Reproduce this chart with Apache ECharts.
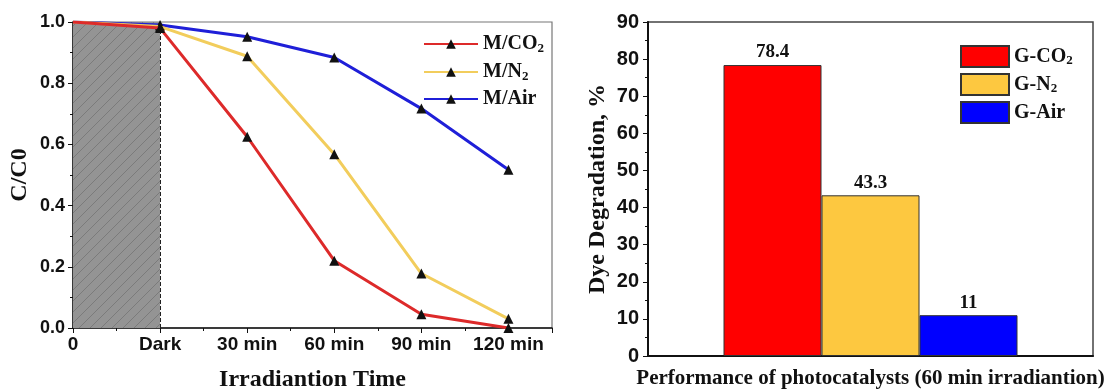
<!DOCTYPE html>
<html>
<head>
<meta charset="utf-8">
<script src="https://cdn.jsdelivr.net/npm/echarts@6/dist/echarts.min.js"></script>
<style>html,body{margin:0;padding:0;background:#fff;}#c{width:1111px;height:389px;}</style>
</head>
<body>
<div id="c"></div>
<script>
// ---- data ----
var timeLabels = ['0', 'Dark', '30 min', '60 min', '90 min', '120 min'];
var lineNames = ['M/CO2', 'M/N2', 'M/Air'];
var co2Vals = [1.0, 0.98, 0.625, 0.22, 0.045, 0.0];
var n2Vals = [1.0, 0.985, 0.888, 0.568, 0.178, 0.03];
var airVals = [1.0, 0.99, 0.952, 0.884, 0.717, 0.517];
var barNames = ['G-CO2', 'G-N2', 'G-Air'];
var barVals = [78.4, 43.3, 11];

var SERIF = 'Liberation Serif';
var SANS = 'Liberation Sans';

// hatch pattern
var P = 11;
var pc = document.createElement('canvas');
pc.width = P; pc.height = P;
var g = pc.getContext('2d');
g.fillStyle = '#949494'; g.fillRect(0, 0, P, P);
g.strokeStyle = '#7b7b7b'; g.lineWidth = 1;
g.beginPath(); g.moveTo(-1, P + 1); g.lineTo(P + 1, -1); g.stroke();
g.beginPath(); g.moveTo(-1, 1); g.lineTo(1, -1); g.stroke();
g.beginPath(); g.moveTo(P - 1, P + 1); g.lineTo(P + 1, P - 1); g.stroke();

function subFmt(name) {
  var m = name.match(/^(.*?)(\d)$/);
  if (m) return '{b|' + m[1] + '}{s|' + m[2] + '}';
  return '{b|' + name + '}';
}
function pts(vals) {
  return vals.map(function (v, i) {
    return i === 0 ? { value: [i, v], symbolSize: 0 } : [i, v];
  });
}
var lineColors = ['#dd2a2a', '#f2cd5c', '#1f1fd8'];
var barColors = ['#ff0000', '#fdc840', '#0000ff'];
var lineData = [co2Vals, n2Vals, airVals];

var series = lineData.map(function (vals, k) {
  var s = {
    name: lineNames[k], type: 'line', xAxisIndex: 0, yAxisIndex: 0,
    data: pts(vals), symbol: 'triangle', symbolSize: 10,
    itemStyle: { color: '#111' },
    lineStyle: { color: lineColors[k], width: 3 },
    z: 5 - k
  };
  if (k === 0) {
    s.markArea = {
      silent: true, z: 1,
      itemStyle: { color: { image: pc, repeat: 'repeat' } },
      data: [[{ xAxis: 0, yAxis: 0 }, { xAxis: 1, yAxis: 1 }]]
    };
    s.markLine = {
      silent: true, symbol: 'none', label: { show: false },
      lineStyle: { color: '#222', type: 'dashed', width: 1 },
      data: [[{ coord: [1, 0] }, { coord: [1, 1] }]]
    };
  }
  return s;
});
barNames.forEach(function (n, k) {
  series.push({
    name: n, type: 'bar', xAxisIndex: 1, yAxisIndex: 1,
    data: [barVals[k]], barWidth: 98, barGap: '0%',
    itemStyle: { color: barColors[k], borderColor: '#333', borderWidth: 1 },
    label: { show: true, position: 'top', distance: 3, color: '#111',
      fontFamily: SERIF, fontWeight: 'bold', fontSize: 19 }
  });
});

var richTxt = {
  b: { fontFamily: SERIF, fontWeight: 'bold', fontSize: 20, color: '#111', lineHeight: 22 },
  s: { fontFamily: SERIF, fontWeight: 'bold', fontSize: 13, color: '#111', lineHeight: 22, verticalAlign: 'bottom', padding: [9, 0, 0, 0] }
};

var option = {
  animation: false,
  backgroundColor: '#fff',
  grid: [
    { left: 73, top: 22, width: 479, height: 306, show: true, borderColor: '#777', borderWidth: 1.2, outerBoundsMode: 'none', containLabel: false },
    { left: 648, top: 22, width: 445, height: 334, show: true, borderColor: '#444', borderWidth: 1.5, outerBoundsMode: 'none', containLabel: false }
  ],
  legend: [
    { data: lineNames, orient: 'vertical', left: 418, top: 28, itemWidth: 54, itemHeight: 12, itemGap: 6,
      formatter: subFmt, textStyle: { rich: richTxt }, selectedMode: false },
    { data: barNames, orient: 'vertical', left: 955, top: 40, itemWidth: 48, itemHeight: 21, itemGap: 5,
      icon: 'rect', formatter: subFmt, textStyle: { rich: richTxt }, selectedMode: false }
  ],
  xAxis: [
    { type: 'value', gridIndex: 0, min: 0, max: 5.5, interval: 1,
      axisLine: { show: true, lineStyle: { color: '#111', width: 1.5 } },
      axisTick: { show: true, length: 5, lineStyle: { color: '#111' } },
      minorTick: { show: true, splitNumber: 2, length: 3, lineStyle: { color: '#111' } },
      splitLine: { show: false },
      axisLabel: { margin: 7, color: '#111', fontFamily: SANS, fontWeight: 'bold', fontSize: 19,
        formatter: function (v) { return Number.isInteger(v) ? (timeLabels[v] || '') : ''; } },
      name: 'Irradiantion Time', nameLocation: 'middle', nameGap: 40,
      nameTextStyle: { fontFamily: SERIF, fontWeight: 'bold', fontSize: 24, color: '#111' } },
    { type: 'category', gridIndex: 1, data: [''],
      axisLine: { show: true, lineStyle: { color: '#111', width: 2 } },
      axisTick: { show: false }, axisLabel: { show: false },
      name: 'Performance of photocatalysts (60 min irradiantion)', nameLocation: 'middle', nameGap: 12,
      nameTextStyle: { fontFamily: SERIF, fontWeight: 'bold', fontSize: 21, color: '#111' } }
  ],
  yAxis: [
    { type: 'value', gridIndex: 0, min: 0, max: 1, interval: 0.2,
      axisLine: { show: true, lineStyle: { color: '#111', width: 1.5 } },
      axisTick: { show: true, length: 5, lineStyle: { color: '#111' } },
      minorTick: { show: true, splitNumber: 2, length: 3, lineStyle: { color: '#111' } },
      splitLine: { show: false },
      axisLabel: { margin: 8, color: '#111', fontFamily: SANS, fontWeight: 'bold', fontSize: 18,
        formatter: function (v) { return v.toFixed(1); } },
      name: 'C/C0', nameLocation: 'middle', nameGap: 41,
      nameTextStyle: { fontFamily: SERIF, fontWeight: 'bold', fontSize: 24, color: '#111' } },
    { type: 'value', gridIndex: 1, min: 0, max: 90, interval: 10,
      axisLine: { show: true, lineStyle: { color: '#111', width: 2 } },
      axisTick: { show: true, length: 5, lineStyle: { color: '#111' } },
      minorTick: { show: true, splitNumber: 2, length: 3, lineStyle: { color: '#111' } },
      splitLine: { show: false },
      axisLabel: { margin: 9, color: '#111', fontFamily: SANS, fontWeight: 'bold', fontSize: 20 },
      name: 'Dye Degradation, %', nameLocation: 'middle', nameGap: 38,
      nameTextStyle: { fontFamily: SERIF, fontWeight: 'bold', fontSize: 24, color: '#111' } }
  ],
  series: series
};
var chart = echarts.init(document.getElementById('c'));
chart.setOption(option);
</script>
</body>
</html>
